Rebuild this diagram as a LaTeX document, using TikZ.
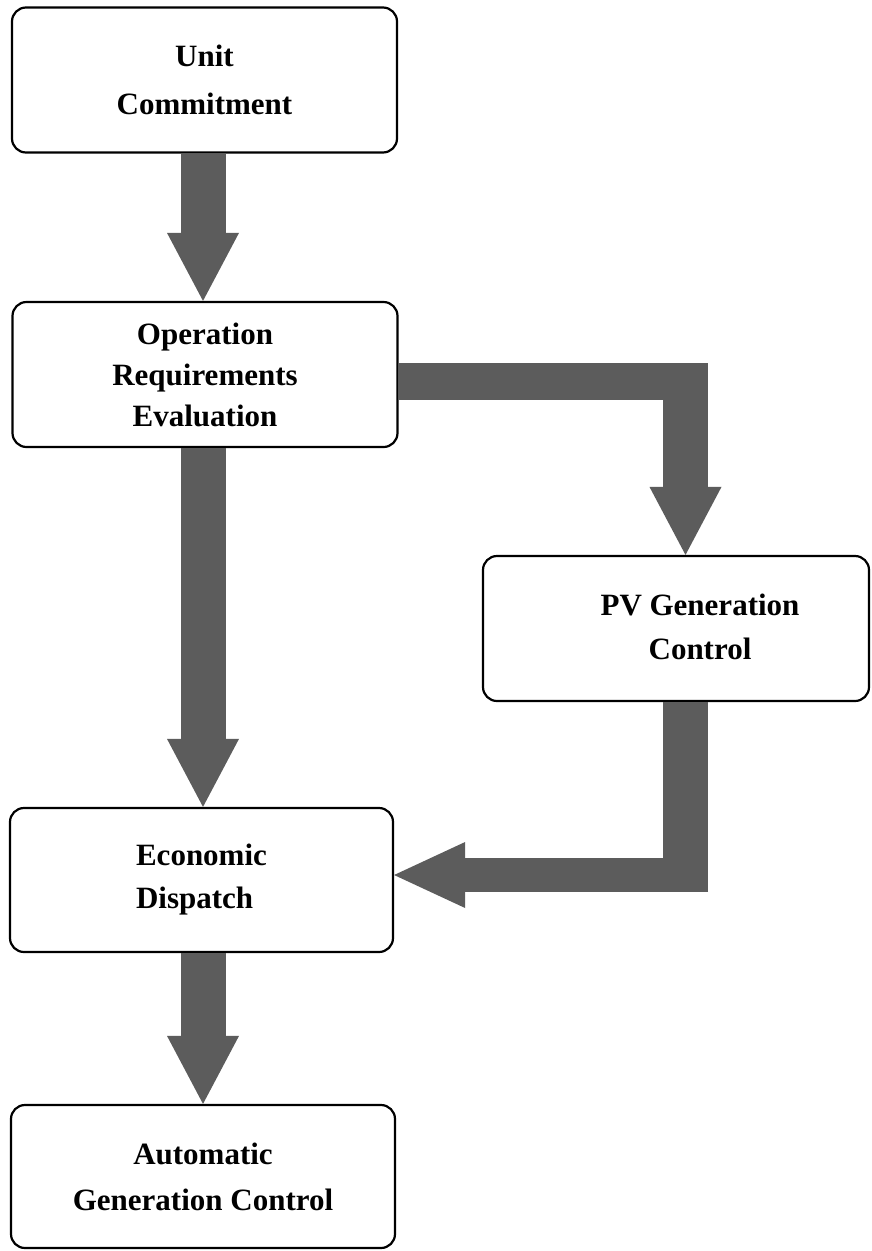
\documentclass[tikz,border=0pt]{standalone}
\usepackage{fontspec}
\setmainfont{Liberation Serif}
\usetikzlibrary{arrows.meta}
\definecolor{flowgray}{gray}{0.36}
\tikzset{
  stage/.style={draw=black, line width=2.2pt, rounded corners=14pt, fill=white,
    inner sep=0pt, align=center, minimum width=385pt, minimum height=145pt,
    font=\fontsize{31}{#1}\selectfont\bfseries},
  stage/.default=44pt,
  band/.style={draw=flowgray, line width=45pt, line cap=butt},
  flowtip/.style={-{Triangle[width=72pt,length=68pt,line width=0pt]}},
}
\begin{document}
\begin{tikzpicture}[x=1pt, y=-1pt]
  \fill[white] (0,0) rectangle (872,1251);
  \useasboundingbox (0,0) rectangle (872,1251);

  % stages of the scheduling chain
  \node[stage=48pt] (uc)  at (204.5,80)    {Unit\\Commitment};
  \node[stage=41pt] (ore) at (205,374.5)   {Operation\\Requirements\\Evaluation};
  \node[stage=44pt, minimum width=386pt] (pv) at (676,628.5)
    {\hspace*{48pt}\begin{tabular}{@{}c@{}}PV Generation\\Control\end{tabular}};
  \node[stage=43pt, align=left, minimum width=383pt, minimum height=144pt] (ed) at (201.5,880) {Economic\\Dispatch};
  \node[stage=46pt, minimum width=384pt, minimum height=143pt] (agc) at (203,1176.5) {Automatic\\Generation Control};

  % straight flows down the left column, all on one vertical line
  \coordinate (spine) at (203,0);
  \draw[band, flowtip] (spine |- uc.south) -- (spine |- ore.north);
  \draw[band, flowtip] (spine |- ore.south) -- (spine |- ed.north);
  \draw[band, flowtip] (spine |- ed.south) -- (spine |- agc.north);

  % branch to PV generation control
  \coordinate (pvin) at (685.5,363);
  \coordinate (pvcorner) at (708,381.5);
  \draw[band, line width=37pt] ([yshift=-7pt]ore.east) -- (pvcorner);
  \draw[band, flowtip] (pvin) -- (pvin |- pv.north);

  % return from PV generation control to economic dispatch
  \coordinate (pvout) at (685.5,892);
  \coordinate (edcorner) at (708,875);
  \draw[band] (pvout |- pv.south) -- (pvout);
  \draw[band, line width=34pt, -{Triangle[width=66pt,length=71pt,line width=0pt]}]
    (edcorner) -- ([yshift=5pt]ed.east);
\end{tikzpicture}
\end{document}
